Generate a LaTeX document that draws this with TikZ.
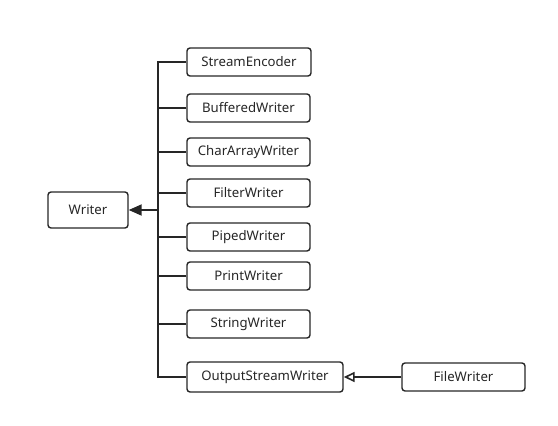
\documentclass[tikz,border=0pt]{standalone}
\usepackage{fontspec}
\setmainfont{Noto Sans}
\usetikzlibrary{arrows.meta}
\begin{document}
\begin{tikzpicture}[x=1pt,y=-1pt,
  cls/.style={draw=black!85,line width=1.4pt,rounded corners=3pt,minimum height=28pt,inner sep=0pt,font=\fontsize{13.2}{15}\selectfont,text=black!85},
  conn/.style={draw=black!85,line width=1.9pt}]
\useasboundingbox (0,0) rectangle (558,426);
\node[cls,minimum width=80pt,minimum height=36pt] (w) at (88,210) {Writer};
\node[cls,minimum width=124pt] (se) at (249,62) {StreamEncoder};
\node[cls,minimum width=123pt] (bw) at (248.5,108) {BufferedWriter};
\node[cls,minimum width=123pt] (ca) at (248.5,152) {CharArrayWriter};
\node[cls,minimum width=123pt] (fw) at (248.5,193) {FilterWriter};
\node[cls,minimum width=123pt] (pw) at (248.5,237) {PipedWriter};
\node[cls,minimum width=123pt] (prw) at (248.5,276) {PrintWriter};
\node[cls,minimum width=123pt] (sw) at (248.5,324) {StringWriter};
\node[cls,minimum width=156pt,minimum height=30pt] (osw) at (265,377) {OutputStreamWriter};
\node[cls,minimum width=123pt] (fiw) at (463.5,377) {FileWriter};
\coordinate (t) at (158,210);
\draw[conn] (se.west) -| (158,210) |- (osw.west);
\foreach \n in {bw,ca,fw,pw,prw,sw} \draw[conn] (\n.west) -- (\n.west -| t);
\draw[conn,-{Triangle[length=13pt,width=11pt]}] (t) -- (w.east);
\draw[conn,line width=1.6pt,-{Triangle[open,length=11pt,width=10pt,line width=1.6pt]}] (fiw.west) -- (osw.east);
\end{tikzpicture}
\end{document}
